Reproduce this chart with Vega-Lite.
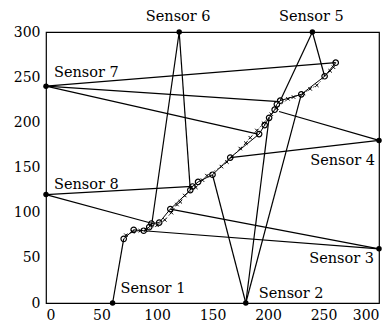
{
  "$schema": "https://vega.github.io/schema/vega-lite/v6.json",
  "width": 333,
  "height": 271,
  "autosize": "none",
  "padding": {"left": 46, "top": 32, "right": 9, "bottom": 24},
  "background": "white",
  "config": {
    "view": {"stroke": "black", "strokeWidth": 1.2},
    "axis": {"domain": false, "grid": false, "ticks": false, "labelFont": "DejaVu Serif", "labelFontSize": 14, "labelColor": "black", "title": null},
    "text": {"font": "DejaVu Serif", "fontSize": 14.5, "color": "black"}
  },
  "datasets": {
    "sensors": [
      {"name": "Sensor 1", "x": 60, "y": 0},
      {"name": "Sensor 2", "x": 180, "y": 0},
      {"name": "Sensor 3", "x": 300, "y": 60},
      {"name": "Sensor 4", "x": 300, "y": 180},
      {"name": "Sensor 5", "x": 240, "y": 300},
      {"name": "Sensor 6", "x": 120, "y": 300},
      {"name": "Sensor 7", "x": 0, "y": 240},
      {"name": "Sensor 8", "x": 0, "y": 120}
    ],
    "segments": [
      {"seg": "1a", "x": 60, "y": 0}, {"seg": "1a", "x": 70, "y": 71},
      {"seg": "3a", "x": 300, "y": 60}, {"seg": "3a", "x": 88, "y": 80},
      {"seg": "3b", "x": 300, "y": 60}, {"seg": "3b", "x": 112, "y": 104},
      {"seg": "6a", "x": 120, "y": 300}, {"seg": "6a", "x": 95, "y": 85},
      {"seg": "6b", "x": 120, "y": 300}, {"seg": "6b", "x": 130, "y": 125},
      {"seg": "8a", "x": 0, "y": 120}, {"seg": "8a", "x": 96, "y": 88},
      {"seg": "8b", "x": 0, "y": 120}, {"seg": "8b", "x": 132, "y": 129},
      {"seg": "2a", "x": 180, "y": 0}, {"seg": "2a", "x": 150, "y": 142},
      {"seg": "2b", "x": 180, "y": 0}, {"seg": "2b", "x": 201, "y": 205},
      {"seg": "2c", "x": 180, "y": 0}, {"seg": "2c", "x": 230, "y": 231},
      {"seg": "4a", "x": 300, "y": 180}, {"seg": "4a", "x": 166, "y": 161},
      {"seg": "4b", "x": 300, "y": 180}, {"seg": "4b", "x": 210, "y": 212},
      {"seg": "7a", "x": 0, "y": 240}, {"seg": "7a", "x": 191, "y": 187},
      {"seg": "7b", "x": 0, "y": 240}, {"seg": "7b", "x": 210, "y": 223},
      {"seg": "7c", "x": 0, "y": 240}, {"seg": "7c", "x": 261, "y": 266},
      {"seg": "5a", "x": 240, "y": 300}, {"seg": "5a", "x": 211, "y": 224},
      {"seg": "5b", "x": 240, "y": 300}, {"seg": "5b", "x": 251, "y": 251}
    ],
    "est": [
      {"ord": 1, "x": 70, "y": 71}, {"ord": 2, "x": 79, "y": 81}, {"ord": 3, "x": 88, "y": 80},
      {"ord": 4, "x": 93, "y": 84}, {"ord": 5, "x": 95, "y": 88}, {"ord": 6, "x": 102, "y": 89},
      {"ord": 7, "x": 112, "y": 104}, {"ord": 8, "x": 130, "y": 125}, {"ord": 9, "x": 132, "y": 129},
      {"ord": 10, "x": 137, "y": 134}, {"ord": 11, "x": 150, "y": 142}, {"ord": 12, "x": 166, "y": 161},
      {"ord": 13, "x": 192, "y": 187}, {"ord": 14, "x": 197, "y": 197}, {"ord": 15, "x": 201, "y": 205},
      {"ord": 16, "x": 206, "y": 214}, {"ord": 17, "x": 208, "y": 220}, {"ord": 18, "x": 211, "y": 224},
      {"ord": 19, "x": 230, "y": 231}, {"ord": 20, "x": 251, "y": 251}, {"ord": 21, "x": 261, "y": 266}
    ],
    "truth": [
      {"ord": 1, "x": 72, "y": 75}, {"ord": 2, "x": 78, "y": 79}, {"ord": 3, "x": 85, "y": 80},
      {"ord": 4, "x": 90, "y": 81}, {"ord": 5, "x": 100, "y": 86}, {"ord": 6, "x": 107, "y": 92},
      {"ord": 7, "x": 113, "y": 100}, {"ord": 8, "x": 118, "y": 109}, {"ord": 9, "x": 121, "y": 112},
      {"ord": 10, "x": 125, "y": 119}, {"ord": 11, "x": 135, "y": 128}, {"ord": 12, "x": 141, "y": 136},
      {"ord": 13, "x": 145, "y": 141}, {"ord": 14, "x": 158, "y": 151}, {"ord": 15, "x": 163, "y": 156},
      {"ord": 16, "x": 175, "y": 171}, {"ord": 17, "x": 180, "y": 177}, {"ord": 18, "x": 184, "y": 183},
      {"ord": 19, "x": 190, "y": 191}, {"ord": 20, "x": 196, "y": 199}, {"ord": 21, "x": 203, "y": 209},
      {"ord": 22, "x": 208, "y": 216}, {"ord": 23, "x": 218, "y": 226}, {"ord": 24, "x": 223, "y": 228},
      {"ord": 25, "x": 232, "y": 232}, {"ord": 26, "x": 238, "y": 237}, {"ord": 27, "x": 244, "y": 241},
      {"ord": 28, "x": 256, "y": 257}, {"ord": 29, "x": 259, "y": 261}
    ]
  },
  "encoding": {
    "x": {"field": "x", "type": "quantitative", "scale": {"domain": [0, 300], "nice": false}, "axis": {"values": [0, 50, 100, 150, 200, 250, 300], "labelPadding": 5}},
    "y": {"field": "y", "type": "quantitative", "scale": {"domain": [0, 300], "nice": false}, "axis": {"values": [0, 50, 100, 150, 200, 250, 300], "labelPadding": 6}}
  },
  "layer": [
    {
      "data": {"name": "segments"},
      "mark": {"type": "line", "color": "black", "strokeWidth": 1.2, "clip": false},
      "encoding": {"detail": {"field": "seg"}}
    },
    {
      "data": {"name": "truth"},
      "mark": {"type": "line", "color": "black", "strokeWidth": 0.6, "strokeDash": [2, 2]},
      "encoding": {"order": {"field": "ord"}}
    },
    {
      "data": {"name": "truth"},
      "mark": {"type": "point", "shape": "M-1,-1L1,1M-1,1L1,-1", "size": 12, "color": "black", "strokeWidth": 1, "opacity": 1}
    },
    {
      "data": {"name": "est"},
      "mark": {"type": "line", "color": "black", "strokeWidth": 1},
      "encoding": {"order": {"field": "ord"}}
    },
    {
      "data": {"name": "est"},
      "mark": {"type": "point", "shape": "circle", "size": 30, "filled": false, "color": "black", "strokeWidth": 1.2, "opacity": 1}
    },
    {
      "data": {"name": "sensors"},
      "mark": {"type": "point", "shape": "circle", "size": 30, "filled": true, "color": "black", "opacity": 1, "clip": false}
    },
    {
      "data": {"name": "sensors"},
      "transform": [{"filter": "datum.name === 'Sensor 5' || datum.name === 'Sensor 6'"}],
      "mark": {"type": "text", "align": "center", "baseline": "alphabetic", "dx": -1, "dy": -11},
      "encoding": {"text": {"field": "name"}}
    },
    {
      "data": {"name": "sensors"},
      "transform": [{"filter": "datum.name === 'Sensor 7'"}],
      "mark": {"type": "text", "align": "left", "baseline": "alphabetic", "dx": 8, "dy": -9},
      "encoding": {"text": {"field": "name"}}
    },
    {
      "data": {"name": "sensors"},
      "transform": [{"filter": "datum.name === 'Sensor 8'"}],
      "mark": {"type": "text", "align": "left", "baseline": "alphabetic", "dx": 8, "dy": -6},
      "encoding": {"text": {"field": "name"}}
    },
    {
      "data": {"name": "sensors"},
      "transform": [{"filter": "datum.name === 'Sensor 4'"}],
      "mark": {"type": "text", "align": "right", "baseline": "alphabetic", "dx": -4, "dy": 25},
      "encoding": {"text": {"field": "name"}}
    },
    {
      "data": {"name": "sensors"},
      "transform": [{"filter": "datum.name === 'Sensor 3'"}],
      "mark": {"type": "text", "align": "right", "baseline": "alphabetic", "dx": -5, "dy": 14},
      "encoding": {"text": {"field": "name"}}
    },
    {
      "data": {"name": "sensors"},
      "transform": [{"filter": "datum.name === 'Sensor 1'"}],
      "mark": {"type": "text", "align": "left", "baseline": "alphabetic", "dx": 8, "dy": -10},
      "encoding": {"text": {"field": "name"}}
    },
    {
      "data": {"name": "sensors"},
      "transform": [{"filter": "datum.name === 'Sensor 2'"}],
      "mark": {"type": "text", "align": "left", "baseline": "alphabetic", "dx": 13, "dy": -5},
      "encoding": {"text": {"field": "name"}}
    }
  ]
}
